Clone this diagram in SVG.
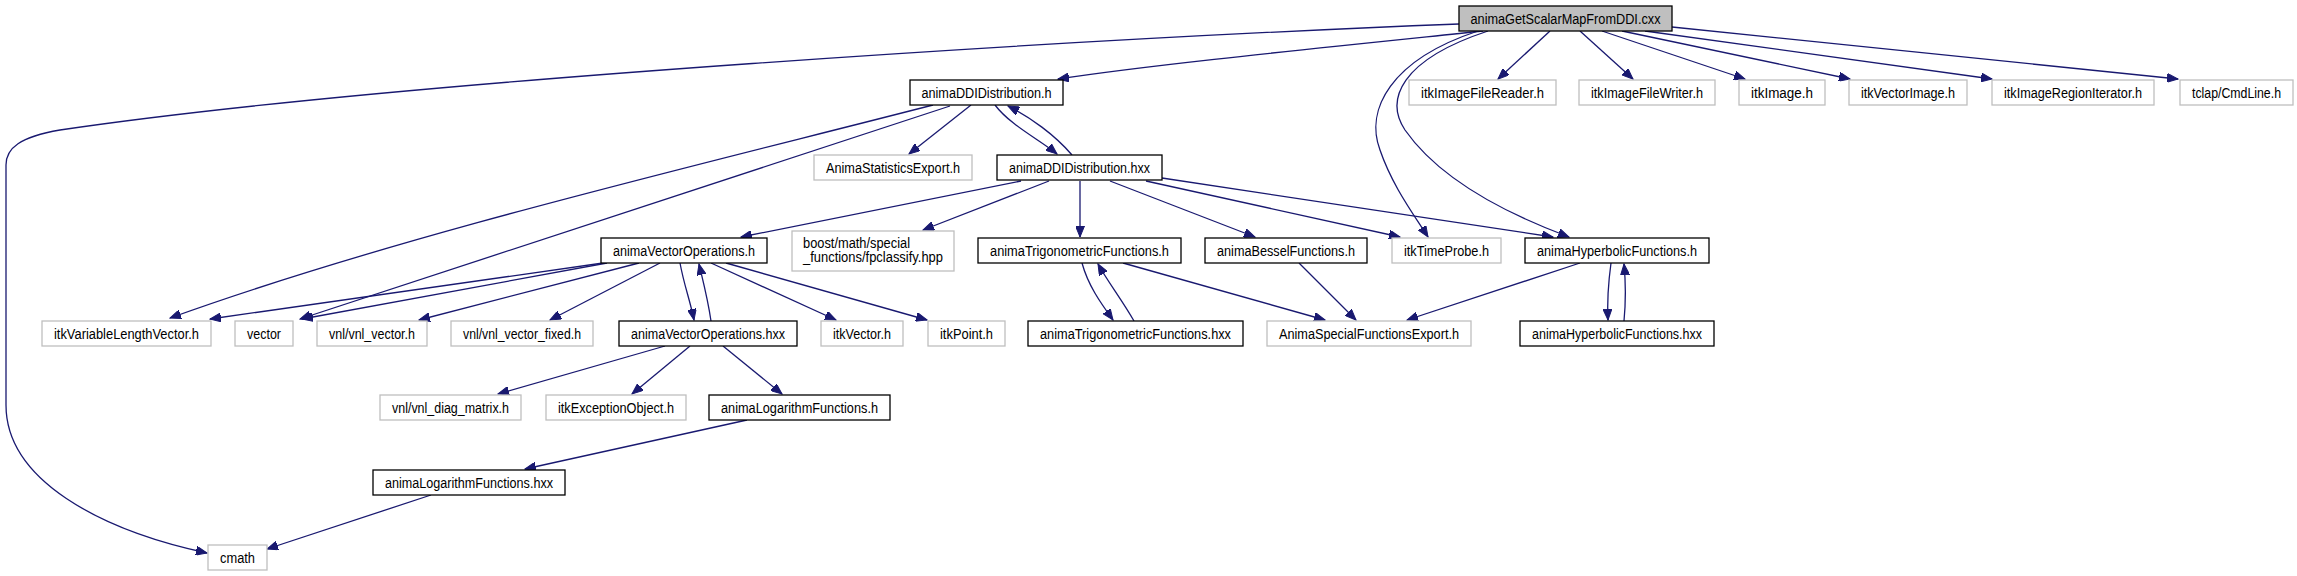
<svg xmlns="http://www.w3.org/2000/svg" width="2297" height="576" viewBox="0 0 2297 576">
<style>
rect{stroke-width:1.3}
.b{fill:#ffffff;stroke:#000000}
.g{fill:#ffffff;stroke:#bfbfbf}
.r{fill:#bfbfbf;stroke:#000000}
text{font-family:"Liberation Sans",Arial,sans-serif;font-size:14px;fill:#000000;text-anchor:middle}
.e path{fill:none;stroke:#191970;stroke-width:1.3}
</style>
<defs>
<marker id="a" markerUnits="userSpaceOnUse" markerWidth="12" markerHeight="9" refX="11" refY="4.5" orient="auto">
<path d="M0,0 L11,4.5 L0,9 z" fill="#191970" stroke="#191970" stroke-width="1"/>
</marker>
</defs>
<rect width="2297" height="576" fill="#ffffff"/>
<g class="e" marker-end="url(#a)">
<path marker-end="url(#a)" d="M1459,24 C1100,38 400,80 60,130 C20,137 6,148 6,165 L6,405 C6,480 100,530 207,553"/>
<path marker-end="url(#a)" d="M1483,31 C1300,50 1150,65 1058,79"/>
<path marker-end="url(#a)" d="M1478,31 C1390,60 1365,110 1380,150 C1392,185 1412,212 1428,237"/>
<path marker-end="url(#a)" d="M1488,31 C1400,60 1385,100 1405,130 C1440,180 1510,215 1569,237"/>
<path marker-end="url(#a)" d="M1550,31 L1498,79"/>
<path marker-end="url(#a)" d="M1580,31 L1633,79"/>
<path marker-end="url(#a)" d="M1602,31 L1745,79"/>
<path marker-end="url(#a)" d="M1622,31 L1850,79"/>
<path marker-end="url(#a)" d="M1645,31 L1992,79"/>
<path marker-end="url(#a)" d="M1672,27 L2178,79"/>
<path marker-end="url(#a)" d="M971,105 L909,154"/>
<path marker-end="url(#a)" d="M995,105 C1010,125 1040,140 1057,154"/>
<path marker-end="url(#a)" d="M1072,155 C1055,135 1030,117 1008,106"/>
<path marker-end="url(#a)" d="M933,105 C700,165 400,235 170,318"/>
<path marker-end="url(#a)" d="M950,106 L300,319"/>
<path marker-end="url(#a)" d="M1021,181 L741,237"/>
<path marker-end="url(#a)" d="M1049,181 L923,230"/>
<path marker-end="url(#a)" d="M1080,181 L1080,237"/>
<path marker-end="url(#a)" d="M1110,181 L1255,237"/>
<path marker-end="url(#a)" d="M1146,181 L1400,237"/>
<path marker-end="url(#a)" d="M1162,178 L1553,237"/>
<path marker-end="url(#a)" d="M603,263 L210,319"/>
<path marker-end="url(#a)" d="M607,263 L302,319"/>
<path marker-end="url(#a)" d="M639,263 L419,320"/>
<path marker-end="url(#a)" d="M660,263 L550,320"/>
<path marker-end="url(#a)" d="M680,263 C684,285 690,300 694,320"/>
<path marker-end="url(#a)" d="M711,321 C708,300 704,285 699,264"/>
<path marker-end="url(#a)" d="M711,263 L836,320"/>
<path marker-end="url(#a)" d="M726,263 L927,320"/>
<path marker-end="url(#a)" d="M665,346 L498,394"/>
<path marker-end="url(#a)" d="M690,346 L632,394"/>
<path marker-end="url(#a)" d="M723,346 L782,394"/>
<path marker-end="url(#a)" d="M747,420 L525,469"/>
<path marker-end="url(#a)" d="M431,495 L267,549"/>
<path marker-end="url(#a)" d="M1082,263 C1088,285 1100,302 1113,320"/>
<path marker-end="url(#a)" d="M1134,321 C1122,300 1108,282 1098,264"/>
<path marker-end="url(#a)" d="M1123,263 L1325,320"/>
<path marker-end="url(#a)" d="M1299,263 L1356,320"/>
<path marker-end="url(#a)" d="M1580,263 L1407,320"/>
<path marker-end="url(#a)" d="M1611,263 C1608,285 1607,300 1608,320"/>
<path marker-end="url(#a)" d="M1624,321 C1626,300 1626,285 1624,264"/>
</g>
<g id="root"><rect class="r" x="1459" y="6" width="213" height="25"/><text x="1565.5" y="23.5" textLength="190" lengthAdjust="spacingAndGlyphs">animaGetScalarMapFromDDI.cxx</text></g>
<g id="ddi_h"><rect class="b" x="910" y="80" width="153" height="25"/><text x="986.5" y="97.5" textLength="130" lengthAdjust="spacingAndGlyphs">animaDDIDistribution.h</text></g>
<g id="reader"><rect class="g" x="1409" y="80" width="147" height="25"/><text x="1482.5" y="97.5" textLength="123" lengthAdjust="spacingAndGlyphs">itkImageFileReader.h</text></g>
<g id="writer"><rect class="g" x="1579" y="80" width="136" height="25"/><text x="1647" y="97.5" textLength="112" lengthAdjust="spacingAndGlyphs">itkImageFileWriter.h</text></g>
<g id="image"><rect class="g" x="1739" y="80" width="86" height="25"/><text x="1782" y="97.5" textLength="62" lengthAdjust="spacingAndGlyphs">itkImage.h</text></g>
<g id="vecimage"><rect class="g" x="1849" y="80" width="118" height="25"/><text x="1908" y="97.5" textLength="94" lengthAdjust="spacingAndGlyphs">itkVectorImage.h</text></g>
<g id="regit"><rect class="g" x="1992" y="80" width="162" height="25"/><text x="2073" y="97.5" textLength="138" lengthAdjust="spacingAndGlyphs">itkImageRegionIterator.h</text></g>
<g id="tclap"><rect class="g" x="2180" y="80" width="113" height="25"/><text x="2236.5" y="97.5" textLength="89" lengthAdjust="spacingAndGlyphs">tclap/CmdLine.h</text></g>
<g id="statexp"><rect class="g" x="814" y="155" width="158" height="25"/><text x="893" y="172.5" textLength="134" lengthAdjust="spacingAndGlyphs">AnimaStatisticsExport.h</text></g>
<g id="ddi_hxx"><rect class="b" x="997" y="155" width="165" height="25"/><text x="1079.5" y="172.5" textLength="141" lengthAdjust="spacingAndGlyphs">animaDDIDistribution.hxx</text></g>
<g id="vecops_h"><rect class="b" x="601" y="238" width="166" height="25"/><text x="684" y="255.5" textLength="142" lengthAdjust="spacingAndGlyphs">animaVectorOperations.h</text></g>
<g id="boost"><rect class="g" x="792" y="231" width="162" height="40"/><text x="803" y="248" style="text-anchor:start" textLength="107" lengthAdjust="spacingAndGlyphs">boost/math/special</text><text x="803" y="262" style="text-anchor:start" textLength="140" lengthAdjust="spacingAndGlyphs">_functions/fpclassify.hpp</text></g>
<g id="trig_h"><rect class="b" x="978" y="238" width="203" height="25"/><text x="1079.5" y="255.5" textLength="179" lengthAdjust="spacingAndGlyphs">animaTrigonometricFunctions.h</text></g>
<g id="bessel_h"><rect class="b" x="1205" y="238" width="162" height="25"/><text x="1286" y="255.5" textLength="138" lengthAdjust="spacingAndGlyphs">animaBesselFunctions.h</text></g>
<g id="timeprobe"><rect class="g" x="1392" y="238" width="109" height="25"/><text x="1446.5" y="255.5" textLength="85" lengthAdjust="spacingAndGlyphs">itkTimeProbe.h</text></g>
<g id="hyp_h"><rect class="b" x="1525" y="238" width="184" height="25"/><text x="1617" y="255.5" textLength="160" lengthAdjust="spacingAndGlyphs">animaHyperbolicFunctions.h</text></g>
<g id="varlen"><rect class="g" x="42" y="321" width="169" height="25"/><text x="126.5" y="338.5" textLength="145" lengthAdjust="spacingAndGlyphs">itkVariableLengthVector.h</text></g>
<g id="vector"><rect class="g" x="235" y="321" width="58" height="25"/><text x="264" y="338.5" textLength="34" lengthAdjust="spacingAndGlyphs">vector</text></g>
<g id="vnlvec"><rect class="g" x="317" y="321" width="110" height="25"/><text x="372" y="338.5" textLength="86" lengthAdjust="spacingAndGlyphs">vnl/vnl_vector.h</text></g>
<g id="vnlfixed"><rect class="g" x="451" y="321" width="142" height="25"/><text x="522" y="338.5" textLength="118" lengthAdjust="spacingAndGlyphs">vnl/vnl_vector_fixed.h</text></g>
<g id="vecops_hxx"><rect class="b" x="619" y="321" width="178" height="25"/><text x="708" y="338.5" textLength="154" lengthAdjust="spacingAndGlyphs">animaVectorOperations.hxx</text></g>
<g id="itkvector"><rect class="g" x="821" y="321" width="82" height="25"/><text x="862" y="338.5" textLength="58" lengthAdjust="spacingAndGlyphs">itkVector.h</text></g>
<g id="itkpoint"><rect class="g" x="928" y="321" width="77" height="25"/><text x="966.5" y="338.5" textLength="53" lengthAdjust="spacingAndGlyphs">itkPoint.h</text></g>
<g id="trig_hxx"><rect class="b" x="1028" y="321" width="215" height="25"/><text x="1135.5" y="338.5" textLength="191" lengthAdjust="spacingAndGlyphs">animaTrigonometricFunctions.hxx</text></g>
<g id="specexp"><rect class="g" x="1267" y="321" width="204" height="25"/><text x="1369" y="338.5" textLength="180" lengthAdjust="spacingAndGlyphs">AnimaSpecialFunctionsExport.h</text></g>
<g id="hyp_hxx"><rect class="b" x="1520" y="321" width="194" height="25"/><text x="1617" y="338.5" textLength="170" lengthAdjust="spacingAndGlyphs">animaHyperbolicFunctions.hxx</text></g>
<g id="diag"><rect class="g" x="380" y="395" width="141" height="25"/><text x="450.5" y="412.5" textLength="117" lengthAdjust="spacingAndGlyphs">vnl/vnl_diag_matrix.h</text></g>
<g id="except"><rect class="g" x="546" y="395" width="140" height="25"/><text x="616" y="412.5" textLength="116" lengthAdjust="spacingAndGlyphs">itkExceptionObject.h</text></g>
<g id="log_h"><rect class="b" x="709" y="395" width="181" height="25"/><text x="799.5" y="412.5" textLength="157" lengthAdjust="spacingAndGlyphs">animaLogarithmFunctions.h</text></g>
<g id="log_hxx"><rect class="b" x="373" y="470" width="192" height="25"/><text x="469" y="487.5" textLength="168" lengthAdjust="spacingAndGlyphs">animaLogarithmFunctions.hxx</text></g>
<g id="cmath"><rect class="g" x="208" y="545" width="59" height="25"/><text x="237.5" y="562.5" textLength="35" lengthAdjust="spacingAndGlyphs">cmath</text></g>
</svg>
